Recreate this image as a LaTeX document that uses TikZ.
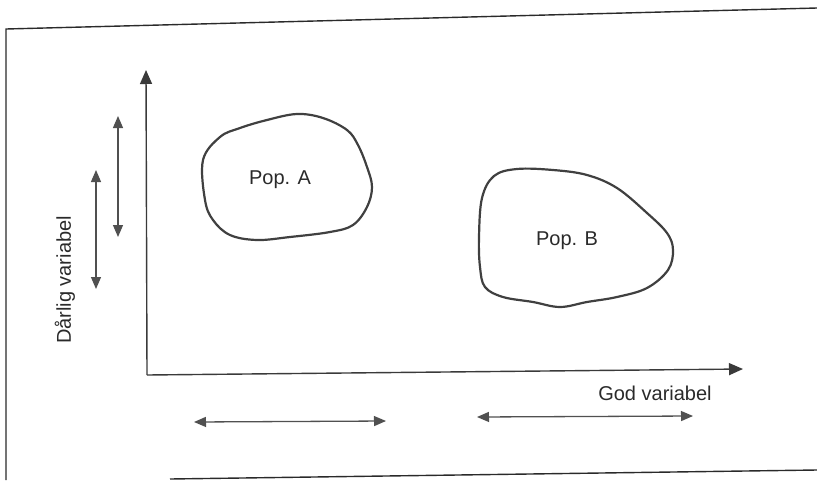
\documentclass[tikz,border=0pt]{standalone}
\usepackage{fontspec}
\setmainfont{Liberation Sans}
\usetikzlibrary{arrows.meta}
\definecolor{ink}{HTML}{2A2A2A}
\definecolor{axisink}{HTML}{3A3A3A}
\definecolor{rangeink}{HTML}{505050}
\definecolor{blobink}{HTML}{404040}
\tikzset{
  frameline/.style={draw=ink, line width=1.4pt},
  axisline/.style={draw=axisink, line width=1.4pt, -{Triangle[length=14pt,width=12pt]}},
  rangeline/.style={draw=rangeink, line width=1.3pt, {Triangle[length=12pt,width=10pt]}-{Triangle[length=12pt,width=10pt]}},
  blob/.style={draw=blobink, line width=2.2pt, line join=round},
  lbl/.style={text=ink, inner sep=0pt, font=\fontsize{20}{24}\selectfont}
}
\begin{document}
\begin{tikzpicture}[x=1pt, y=-1pt]
  \useasboundingbox (0,0) rectangle (817,480);

  % open frame: top, left and bottom edges
  \draw[frameline] (817,8) -- (6,29) -- (6,480);
  \draw[frameline] (170,479) -- (817,470);

  % axes
  \coordinate (O) at (147,375);
  \coordinate (ytip) at (146,70);
  \coordinate (xtip) at (743,369);
  \draw[axisline] (O) -- (ytip);
  \draw[axisline] (O) -- (xtip);

  % axis labels
  \node[lbl] (xlab) at (655,393) {God variabel};
  \node[lbl, rotate=90] (ylab) at (65,280) {Dårlig variabel};

  % ranges along the poor variable
  \coordinate (r1t) at (118,116);
  \coordinate (r1b) at (118,237);
  \coordinate (r2t) at (96,170);
  \coordinate (r2b) at (96,289);
  \draw[rangeline] (r1t) -- (r1b);
  \draw[rangeline] (r2t) -- (r2b);

  % ranges along the good variable
  \coordinate (h1l) at (194,422);
  \coordinate (h1r) at (386,421);
  \coordinate (h2l) at (477,417);
  \coordinate (h2r) at (693,416);
  \draw[rangeline] (h1l) -- (h1r);
  \draw[rangeline] (h2l) -- (h2r);

  % population A
  \draw[blob] plot[smooth cycle, tension=0.6] coordinates {
    (203,160) (220,137) (240,128) (267,120) (297,114) (323,118) (347,130)
    (358,145) (367,167) (372,187) (367,207) (353,225) (330,232) (290,237)
    (257,240) (230,235) (213,220) (205,200)};
  \node[lbl] (popA) at (280,180) {Pop. A};

  % population B
  \draw[blob] plot[smooth cycle, tension=0.6] coordinates {
    (482,198) (494,176) (517,169) (553,170) (587,175) (617,188) (647,213)
    (667,233) (673,250) (668,270) (647,288) (617,297) (587,302) (560,307)
    (533,302) (503,297) (485,287) (480,267) (479,237)};
  \node[lbl] (popB) at (567,241) {Pop. B};
\end{tikzpicture}
\end{document}
